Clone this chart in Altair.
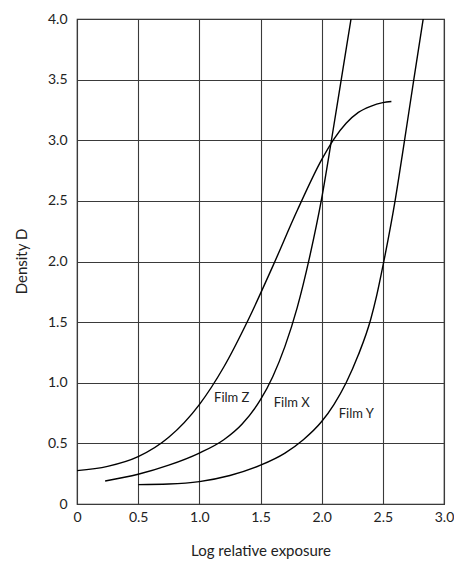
import altair as alt
import pandas as pd

# Film Z
z_x = [0.0, 0.25, 0.5, 0.75, 1.0, 1.2, 1.4, 1.6, 1.8, 2.0, 2.1, 2.2, 2.3, 2.4, 2.5, 2.57]
z_y = [0.275, 0.31, 0.39, 0.55, 0.82, 1.13, 1.52, 1.96, 2.42, 2.84, 3.01, 3.14, 3.23, 3.28, 3.31, 3.32]
# Film X
x_x = [0.23, 0.5, 0.75, 1.0, 1.2, 1.35, 1.5, 1.6, 1.7, 1.8, 1.9, 2.0, 2.08, 2.16, 2.24]
x_y = [0.19, 0.245, 0.32, 0.42, 0.53, 0.66, 0.86, 1.05, 1.3, 1.62, 2.03, 2.52, 3.0, 3.5, 4.0]
# Film Y
y_x = [0.5, 0.75, 1.0, 1.25, 1.5, 1.7, 1.85, 2.0, 2.1, 2.2, 2.3, 2.4, 2.45, 2.5, 2.6, 2.67, 2.75, 2.83]
y_y = [0.16, 0.165, 0.185, 0.235, 0.32, 0.42, 0.53, 0.68, 0.82, 1.0, 1.23, 1.52, 1.72, 1.96, 2.5, 2.95, 3.48, 4.0]

label_names = ["Film Z", "Film X", "Film Y"]
label_x = [1.265, 1.755, 2.283]
label_y = [0.872, 0.83, 0.74]

x_ticks = [0, 0.5, 1.0, 1.5, 2.0, 2.5, 3.0]
y_ticks = [0, 0.5, 1.0, 1.5, 2.0, 2.5, 3.0, 3.5, 4.0]

rows = []
for name, xs, ys in [("Film Z", z_x, z_y), ("Film X", x_x, x_y), ("Film Y", y_x, y_y)]:
    for i, (a, b) in enumerate(zip(xs, ys)):
        rows.append({"film": name, "exposure": a, "density": b, "order": i})
df = pd.DataFrame(rows)

labels = pd.DataFrame({"film": label_names, "exposure": label_x, "density": label_y})

FONT = "Lato"
TXT = "#222222"
label_expr = "datum.value == 0 ? '0' : format(datum.value, '.1f')"

xscale = alt.Scale(domain=[0, 3], nice=False, zero=False)
yscale = alt.Scale(domain=[0, 4], nice=False, zero=False)

x_axis = alt.Axis(
    values=x_ticks, labelExpr=label_expr, title="Log relative exposure",
    grid=True, gridColor="#3a3a3a", gridWidth=1.1, ticks=False, domain=False,
    labelFont=FONT, labelFontSize=14, labelColor=TXT, labelPadding=6, labelFlush=False,
    titleFont=FONT, titleFontSize=15, titleFontWeight="normal", titleColor=TXT,
    titleY=46, titleBaseline="middle",
)
y_axis = alt.Axis(
    values=y_ticks, labelExpr=label_expr, title="Density D",
    grid=True, gridColor="#3a3a3a", gridWidth=1.1, ticks=False, domain=False,
    labelFont=FONT, labelFontSize=14, labelColor=TXT, labelPadding=10,
    titleFont=FONT, titleFontSize=15, titleFontWeight="normal", titleColor=TXT,
    titleX=-56, titleY=242, titleAngle=270, titleBaseline="middle", titleAlign="center",
)

lines = alt.Chart(df).mark_line(
    color="black", strokeWidth=1.4, interpolate="monotone", clip=True
).encode(
    x=alt.X("exposure:Q", scale=xscale, axis=x_axis),
    y=alt.Y("density:Q", scale=yscale, axis=y_axis),
    detail="film:N",
    order="order:Q",
)

text = alt.Chart(labels).mark_text(
    font=FONT, fontSize=13, color=TXT, align="center", baseline="middle"
).encode(
    x=alt.X("exposure:Q", scale=xscale),
    y=alt.Y("density:Q", scale=yscale),
    text="film:N",
)

chart = alt.layer(lines, text).properties(
    width=367,
    height=485,
    padding={"left": 77, "top": 19, "right": 10, "bottom": 57},
    autosize=alt.AutoSizeParams(type="none"),
    background="white",
).configure_view(stroke="#222222", strokeWidth=1.2)

chart.save("out.html", embed_options={"renderer": "svg", "actions": False})
